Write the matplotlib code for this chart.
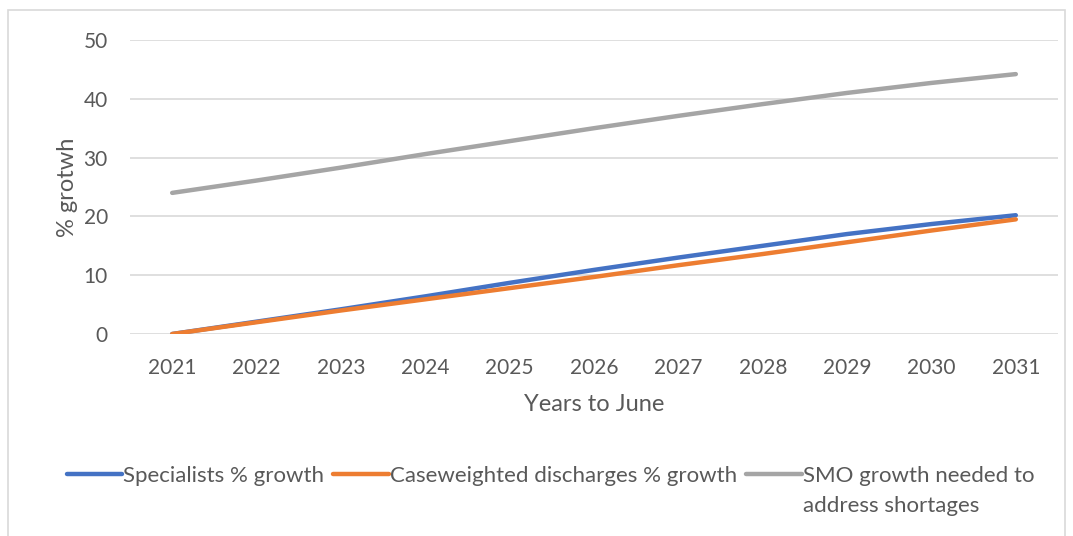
import matplotlib
matplotlib.use("Agg")
import matplotlib.pyplot as plt
from matplotlib.patches import Rectangle

years = ["2021", "2022", "2023", "2024", "2025", "2026", "2027", "2028", "2029", "2030", "2031"]
specialists = [0, 2.1, 4.2, 6.4, 8.7, 10.9, 13.0, 15.0, 17.0, 18.7, 20.2]
discharges = [0, 2.0, 4.0, 5.9, 7.8, 9.7, 11.7, 13.6, 15.6, 17.6, 19.5]
smo_needed = [24.0, 26.1, 28.3, 30.6, 32.8, 35.0, 37.1, 39.1, 41.0, 42.7, 44.2]
yticks = [0, 10, 20, 30, 40, 50]
legend_labels = ["Specialists % growth", "Caseweighted discharges % growth",
                 "SMO growth needed to"]
legend_wrap = "address shortages"

plt.rcParams['font.family'] = ['Lato', 'DejaVu Sans']
TXT = '#595959'
W, H = 1073, 536
fig = plt.figure(figsize=(W / 100, H / 100), dpi=100)
fig.patches.append(Rectangle((8 / W, -0.1), (1065 - 8) / W, 1.1 - 10 / H,
                             transform=fig.transFigure, fill=False,
                             edgecolor='#d9d9d9', linewidth=1.2))
ax = fig.add_axes([130 / W, 1 - 334 / H, (1058 - 130) / W, (334 - 40) / H])
x = range(len(years))
l1, = ax.plot(x, specialists, color='#4472c4', lw=3.2, solid_capstyle='round', zorder=3)
l2, = ax.plot(x, discharges, color='#ed7d31', lw=3.2, solid_capstyle='round', zorder=4)
l3, = ax.plot(x, smo_needed, color='#a5a5a5', lw=3.2, solid_capstyle='round', zorder=3)
ax.set_xlim(-0.5, len(years) - 0.5)
ax.set_ylim(0, 50)
ax.set_yticks(yticks)
ax.set_xticks(list(x))
ax.set_xticklabels(years)
ax.grid(axis='y', color='#d9d9d9', lw=1.2)
ax.set_axisbelow(True)
for s in ax.spines.values():
    s.set_visible(False)
ax.tick_params(length=0, labelsize=15, colors=TXT)
ax.tick_params(axis='x', pad=17)
ax.tick_params(axis='y', pad=16)
ax.set_xlabel("Years to June", fontsize=17, color=TXT, labelpad=12)
ax.set_ylabel("% grotwh", fontsize=17, color=TXT, labelpad=4)
leg = fig.legend([l1, l2, l3], legend_labels,
                 loc='upper center', bbox_to_anchor=(0.513, 1 - 446 / H), ncol=3,
                 frameon=False, fontsize=16, labelcolor=TXT,
                 handlelength=2.5, handletextpad=0.05, columnspacing=0.4)
fig.canvas.draw()
t3 = leg.get_texts()[2]
bb = t3.get_window_extent()
fig.text(bb.x0 / W, (bb.y0 - 30) / H, legend_wrap, fontsize=16, color=TXT,
         ha='left', va='bottom')
fig.savefig("out.png", dpi=100)
